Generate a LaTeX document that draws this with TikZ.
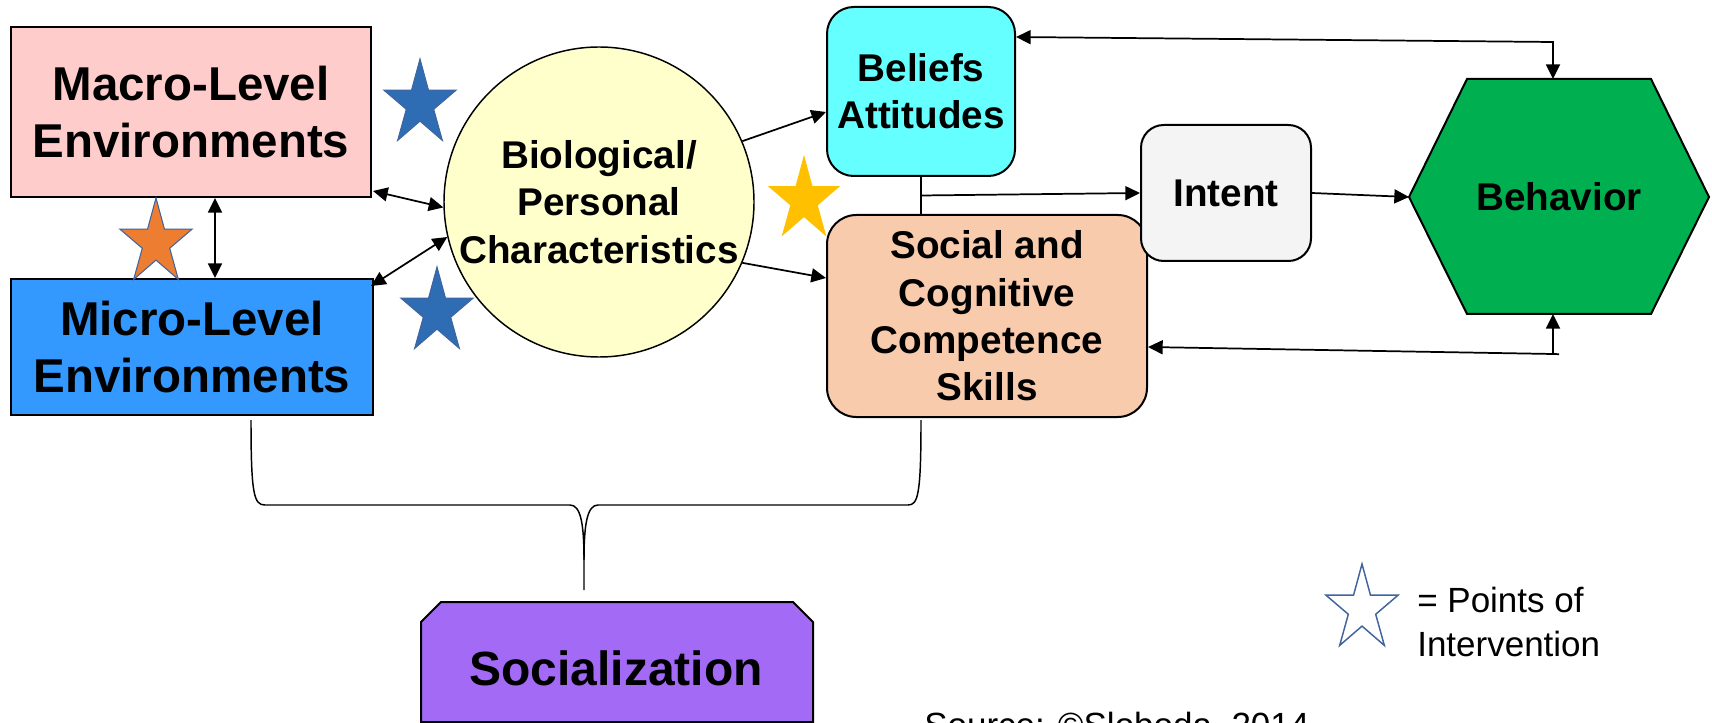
\documentclass[tikz,border=0pt]{standalone}
\usepackage{fontspec}
\setmainfont{Liberation Sans}
\usetikzlibrary{arrows.meta,calc}
\definecolor{macrofill}{HTML}{FFCCCC}
\definecolor{microfill}{HTML}{3399FF}
\definecolor{biofill}{HTML}{FFFFCC}
\definecolor{belfill}{HTML}{66FFFF}
\definecolor{socfill}{HTML}{F8CBAD}
\definecolor{intfill}{HTML}{F4F4F4}
\definecolor{behfill}{HTML}{00B050}
\definecolor{sozfill}{HTML}{A26AF5}
\definecolor{starblue}{HTML}{2E6DB4}
\definecolor{starline}{HTML}{41649E}
\definecolor{starorange}{HTML}{ED7D31}
\definecolor{stargold}{HTML}{FFC000}
\tikzset{
  lbl/.style={font=\bfseries\fontsize{29pt}{35.5pt}\selectfont, align=center, inner sep=0pt},
  shp/.style={draw, line width=1.5pt, lbl},
  envbox/.style={shp, font=\bfseries\fontsize{35.6pt}{43pt}\selectfont},
  conn/.style={line width=1.3pt},
  bracestyle/.style={line width=1.1pt},
  pics/pstar/.style={code={\path[pic actions] (270:38 and 45) -- (306:14.4 and 17.1) -- (342:38 and 45) -- (18:14.4 and 17.1) -- (54:38 and 45) -- (90:14.4 and 17.1) -- (126:38 and 45) -- (162:14.4 and 17.1) -- (198:38 and 45) -- (234:14.4 and 17.1) -- cycle;}}
}
\begin{document}
\begin{tikzpicture}[x=0.75pt,y=-0.75pt,>={Triangle[length=11pt,width=10.5pt]}]
\useasboundingbox (0,0) rectangle (1712,723);
\fill[white] (0,0) rectangle (1712,723);

% boxes
\node[envbox, fill=macrofill, minimum width=270pt, minimum height=127.5pt] (macro) at (191,112) {Macro-Level\\Environments};
\node[envbox, fill=microfill, minimum width=271.5pt, minimum height=102pt] (micro) at (192,347) {Micro-Level\\Environments};
\node[lbl, circle, draw, line width=1.1pt, fill=biofill, minimum size=232.5pt] (bio) at (599,202) {Biological/\\Personal\\Characteristics};
\node[shp, rounded corners=20pt, fill=belfill, minimum width=141pt, minimum height=126.75pt] (beliefs) at (921,91.5) {Beliefs\\Attitudes};
\node[shp, rounded corners=22pt, fill=socfill, minimum width=240pt, minimum height=151.5pt] (social) at (987,316) {Social and\\Cognitive\\Competence\\Skills};
\node[shp, rounded corners=17pt, fill=intfill, minimum width=127.5pt, minimum height=102pt] (intent) at (1226,193) {Intent};

% behavior hexagon
\coordinate (behL) at (1409,197);
\coordinate (behR) at (1709,197);
\coordinate (behT) at (1553,79);
\coordinate (behB) at (1553,314);
\filldraw[fill=behfill, line width=1.5pt] (behL) -- (1467,79) -- (1651,79) -- (behR) -- (1651,314) -- (1467,314) -- cycle;
\node[lbl] (behavior) at (1559,197) {Behavior};

% socialization
\filldraw[fill=sozfill, line width=1.5pt] (421,722) -- (421,622) -- (441,602) -- (793,602) -- (813,622) -- (813,722) -- cycle;
\node[lbl, font=\bfseries\fontsize{36pt}{43pt}\selectfont] (soc) at (616,668.5) {Socialization};

% connectors
\coordinate (mx) at (215,0);
\draw[conn,<->] (macro.south -| mx) -- (micro.north -| mx);
\draw[conn,<->] ($(macro.south east)+(1,-7)$) -- (bio.182);
\draw[conn,<->] ($(micro.north east)+(-3,8)$) -- (bio.193);
\draw[conn,->] (bio.23) -- ($(beliefs.west)+(0,20.5)$);
\draw[conn,->] (bio.-23) -- ($(social.west)+(0,-38)$);
\draw[conn] (beliefs.south) -- (social.north -| beliefs.south);
\coordinate (jn) at ($(beliefs.south)!0.5!(social.north -| beliefs.south)$);
\draw[conn,->] (jn) -- (intent.west);
\draw[conn,->] (intent.east) -- (behL);
\draw[conn,<->] ($(beliefs.east)+(0,-54.5)$) -- (1553,42) -- (behT);
\draw[conn,<->] (behB) -- (1553,354) -- ($(social.east)+(0,31)$);
\draw[conn] (1553,354) -- (1559,354.2);

% brace
\coordinate (bl) at ($(micro.south)+(59,4)$);
\coordinate (br) at ($(social.south -| beliefs.south)+(0,2)$);
\coordinate (bt) at (584,590);
\draw[bracestyle] (bl) .. controls (251,495) and (254,505) .. (265,505) -- (570,505) .. controls (581,505) and (584,525) .. (584,560) -- (bt);
\draw[bracestyle] (584,560) .. controls (584,525) and (587,505) .. (598,505) -- (908,505) .. controls (918,505) and (921,495) .. (br);

% stars
\pic[fill=starblue, draw=starline, line width=0.8pt] at (420,104) {pstar};
\pic[fill=starblue, draw=starline, line width=0.8pt] at (437,312) {pstar};
\pic[fill=starorange, draw=starline, line width=0.8pt] at (156,243) {pstar};
\pic[fill=stargold] at (804,200) {pstar};
\pic[draw=starline, line width=1.1pt] at (1362,609) {pstar};

% legend and source
\node[anchor=west, inner sep=0pt, align=left, font=\fontsize{26.25pt}{33pt}\selectfont] (legend) at (1417,622) {= Points of\\Intervention};
\node[anchor=base west, inner sep=0pt, font=\fontsize{26.25pt}{32pt}\selectfont] (source) at (924,737) {Source: ©Sloboda, 2014};
\end{tikzpicture}
\end{document}
